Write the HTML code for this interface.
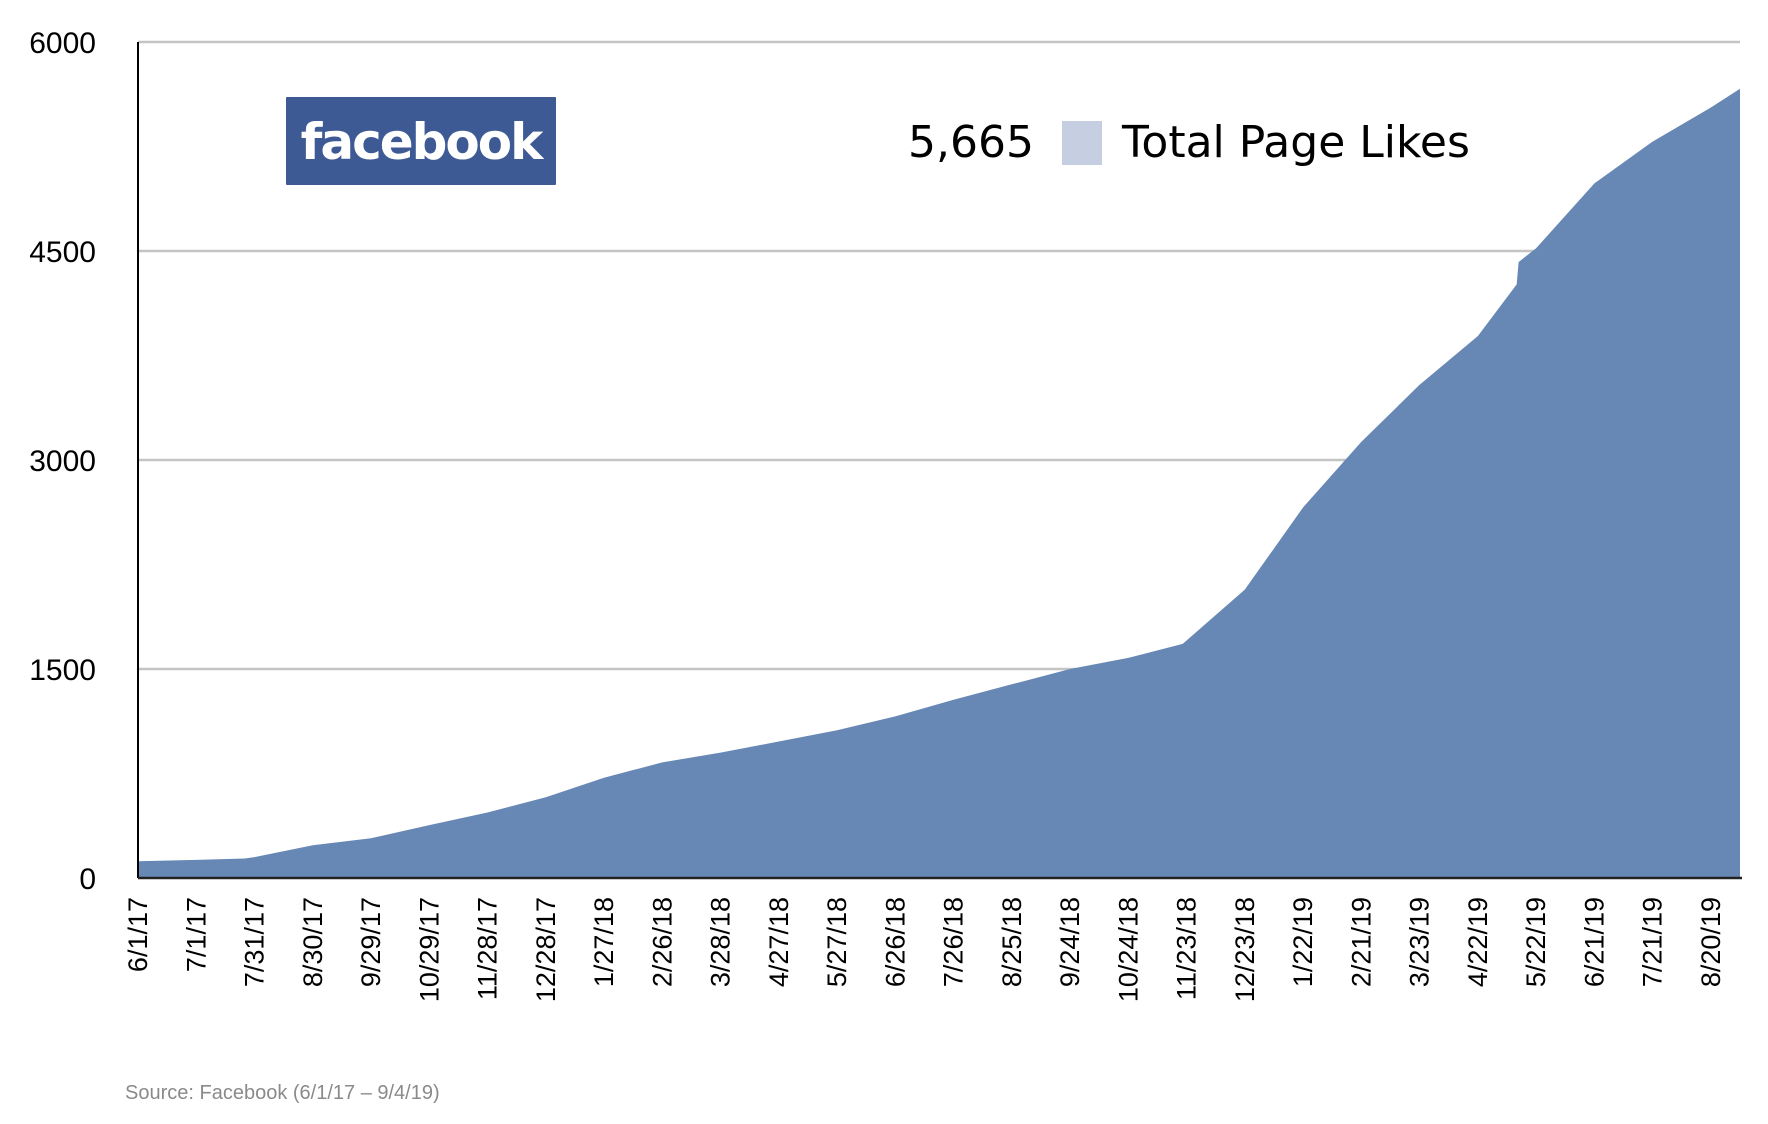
<!DOCTYPE html>
<html><head><meta charset="utf-8"><style>
html,body{margin:0;padding:0;background:#fff;}
svg{display:block;font-family:"Liberation Sans",Arial,sans-serif;}
</style></head><body>
<svg id="chart" width="1768" height="1124" viewBox="0 0 1768 1124" xmlns="http://www.w3.org/2000/svg">
<g id="grid"></g>
<path id="area" fill="#6787b4"></path>
<g id="axes"></g>
<g id="ylabels"></g>
<g id="xlabels"></g>
<g>
<rect x="286" y="97" width="270" height="88" fill="#3e5a94" rx="1"/>
<text x="421" y="159" text-anchor="middle" fill="#fff" font-family="'DejaVu Sans','Liberation Sans',sans-serif" font-weight="bold" font-size="50" letter-spacing="-2">facebook</text>
</g>
<g>
<text x="1034" y="157" text-anchor="end" font-family="'DejaVu Sans','Liberation Sans',sans-serif" font-size="44" fill="#000">5,665</text>
<rect x="1062" y="121" width="40" height="44" fill="#c6cfe1"/>
<text x="1122" y="157" font-family="'DejaVu Sans','Liberation Sans',sans-serif" font-size="44" fill="#000">Total Page Likes</text>
</g>
<text x="125" y="1099" font-size="20" fill="#8a8a8a">Source: Facebook (6/1/17 – 9/4/19)</text>
</svg>
<script>
const days   = [0,30,55,60,90,120,150,180,210,240,270,300,330,360,390,420,450,480,510,538,570,600,630,660,690,710,711,720,750,780,810,825];
const likes  = [120,130,140,150,235,285,380,470,580,720,830,900,980,1060,1160,1280,1390,1500,1580,1680,2070,2660,3130,3540,3890,4260,4420,4520,4985,5285,5530,5665];
const yTicks = [0,1500,3000,4500,6000];
const xTickLabels = ["6/1/17","7/1/17","7/31/17","8/30/17","9/29/17","10/29/17","11/28/17","12/28/17","1/27/18","2/26/18","3/28/18","4/27/18","5/27/18","6/26/18","7/26/18","8/25/18","9/24/18","10/24/18","11/23/18","12/23/18","1/22/19","2/21/19","3/23/19","4/22/19","5/22/19","6/21/19","7/21/19","8/20/19"];
const NS="http://www.w3.org/2000/svg";
const X0=138,X1=1740,Y0=878,Y1=42,DMAX=825,VMAX=6000;
const xs=d=>X0+(d/DMAX)*(X1-X0);
const ys=v=>Y0-(v/VMAX)*(Y0-Y1);
function mk(tag,attrs,parent){const e=document.createElementNS(NS,tag);for(const k in attrs)e.setAttribute(k,attrs[k]);parent.appendChild(e);return e;}
const grid=document.getElementById('grid'),yl=document.getElementById('ylabels'),xl=document.getElementById('xlabels'),ax=document.getElementById('axes');
yTicks.forEach(t=>{
  if(t>0){const g=mk('line',{x1:X0,x2:X1,y1:ys(t),y2:ys(t),stroke:'#c4c4c4','stroke-width':2.5},grid);
  
  }
  const tx=mk('text',{x:96,y:ys(t)+11,'text-anchor':'end','font-size':30,fill:'#000'},yl);
  
  
  tx.textContent=t;
});
let d='M'+xs(days[0])+','+Y0;
days.forEach((dd,i)=>{d+=' L'+xs(dd).toFixed(1)+','+ys(likes[i]).toFixed(1);});
d+=' L'+xs(days[days.length-1])+','+Y0+' Z';
document.getElementById('area').setAttribute('d',d);
const ya=mk('line',{x1:X0,x2:X0,y1:Y1,y2:Y0,stroke:'#000','stroke-width':2},ax);


const xa=mk('line',{x1:X0,x2:X1+2,y1:Y0,y2:Y0,stroke:'#222','stroke-width':2.5},ax);


xTickLabels.forEach((lab,i)=>{
  const x=xs(i*30)+9,y=897;
  const tx=mk('text',{x:x,y:y,'text-anchor':'end','font-size':27,fill:'#000',transform:'rotate(-90 '+x+' '+y+')'},xl);
  
  
  tx.textContent=lab;
});
</script>
</body></html>
